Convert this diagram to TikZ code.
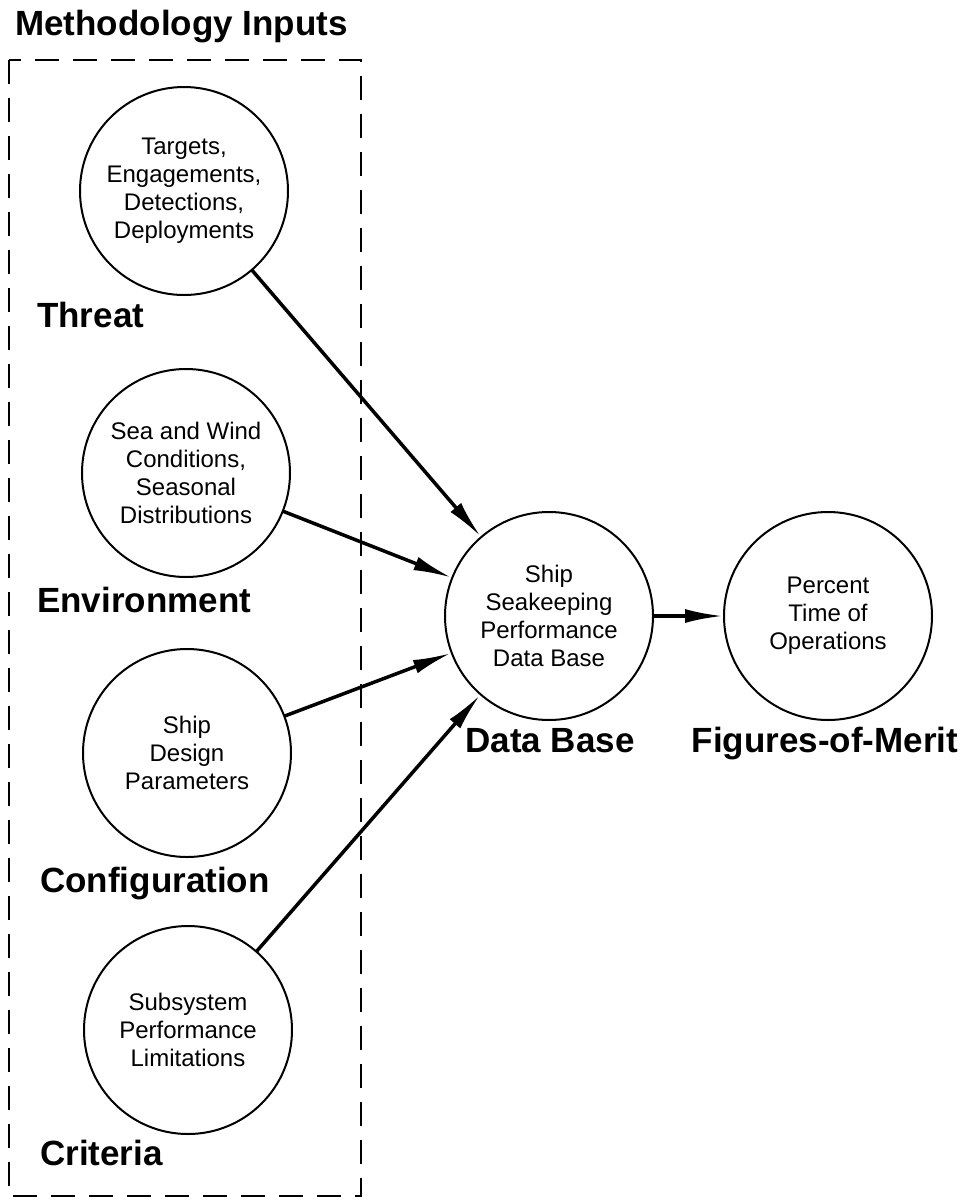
\documentclass[tikz,border=0pt]{standalone}
\usepackage{fontspec}
\setmainfont{Liberation Sans}
\usetikzlibrary{arrows.meta}

\tikzset{
  bubble/.style={draw, circle, line width=2bp, minimum size=208bp, inner sep=0pt,
    align=center, font=\fontsize{24bp}{28bp}\selectfont},
  heading/.style={anchor=base west, inner sep=0pt, font=\fontsize{35bp}{40bp}\selectfont\bfseries},
  feed/.style={line width=3.5bp, -{Latex[length=38bp,width=14bp]}, shorten <=-1bp}
}

\begin{document}
\begin{tikzpicture}[x=1bp, y=-1bp]
		%%%%% START %%%%%
		\useasboundingbox (0, 0) rectangle (967, 1204);
		
		\node[heading] (title) at (15, 35) {Methodology Inputs};
		\draw[line width=1.8bp, dash pattern=on 24bp off 14bp] (9, 60) rectangle (361, 1196);
		
		\node[bubble] (threat) at (184, 191) {Targets,\\Engagements,\\Detections,\\Deployments};
		\node[heading] (threatlbl) at (37, 327) {Threat};
		
		\node[bubble] (environ) at (186, 473) {Sea and Wind\\Conditions,\\Seasonal\\Distributions};
		\node[heading] (environlbl) at (37, 612) {Environment};
		
		\node[bubble] (config) at (187, 753) {Ship\\Design\\Parameters};
		\node[heading] (configlbl) at (40, 892) {Configuration};
		
		\node[bubble] (criteria) at (188, 1030) {Subsystem\\Performance\\Limitations};
		\node[heading] (criterialbl) at (40, 1165) {Criteria};
		
		\node[bubble] (database) at (549, 616) {Ship\\Seakeeping\\Performance\\Data Base};
		\node[heading, anchor=base] (databaselbl) at (550, 752) {Data Base};
		
		\node[bubble] (merit) at (828, 616) {Percent\\Time of\\Operations};
		\node[heading, anchor=base] (meritlbl) at (825, 752) {Figures-of-Merit};
		
		\draw[feed] (threat) -- (database);
		\draw[feed] (environ) -- (database);
		\draw[feed] (config) -- (database);
		\draw[feed] (criteria) -- (database);
		\draw[feed] (database) -- (merit);
		
		%%%%% END %%%%%
	\end{tikzpicture}
\end{document}
